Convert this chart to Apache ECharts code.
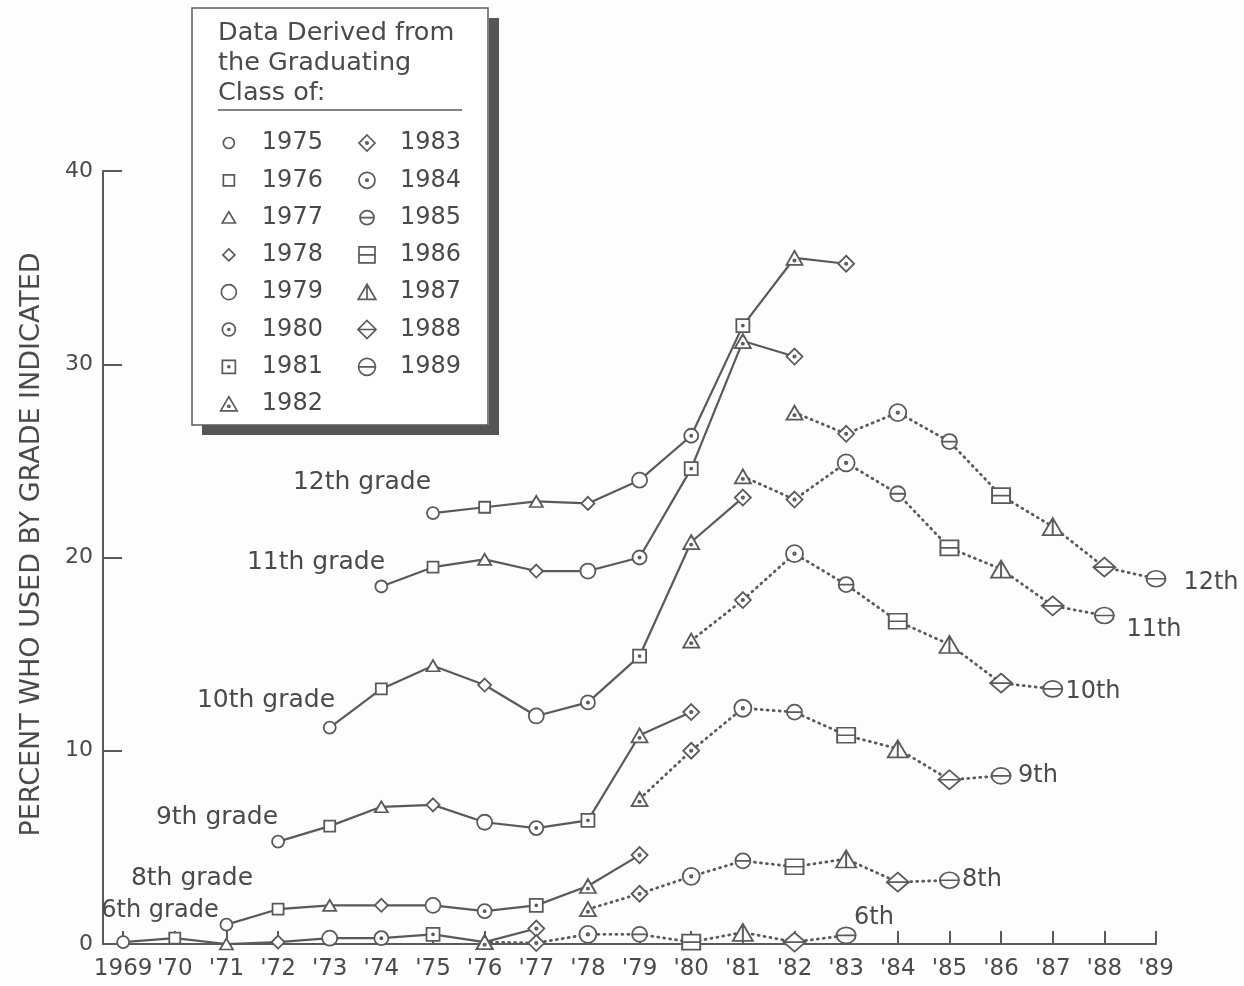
<!DOCTYPE html>
<html>
<head>
<meta charset="utf-8">
<title>Percent who used by grade indicated</title>
<script src="https://cdn.jsdelivr.net/npm/echarts@6/dist/echarts.min.js"></script>
<style>
  html, body { margin: 0; padding: 0; background: #fdfdfd; }
  #chart { width: 1244px; height: 986px; }
</style>
</head>
<body>
<div id="chart"></div>
<script>
// x axis tick years
const tickYears = [1969, 1970, 1971, 1972, 1973, 1974, 1975, 1976, 1977, 1978, 1979,
    1980, 1981, 1982, 1983, 1984, 1985, 1986, 1987, 1988, 1989];

// graduating classes behind each line (solid = early classes, dotted = later ones)
const solidClasses = [1975, 1976, 1977, 1978, 1979, 1980, 1981, 1982, 1983];
const dottedClasses = [1982, 1983, 1984, 1985, 1986, 1987, 1988, 1989];
const legendClasses = [1975, 1976, 1977, 1978, 1979, 1980, 1981, 1982,
    1983, 1984, 1985, 1986, 1987, 1988, 1989];

// percent who used by the grade indicated, one value per class
const grade12Solid = [22.3, 22.6, 22.9, 22.8, 24.0, 26.3, 32.0, 35.5, 35.2];
const grade12Dotted = [27.5, 26.4, 27.5, 26.0, 23.2, 21.6, 19.5, 18.9];
const grade11Solid = [18.5, 19.5, 19.9, 19.3, 19.3, 20.0, 24.6, 31.2, 30.4];
const grade11Dotted = [24.2, 23.0, 24.9, 23.3, 20.5, 19.4, 17.5, 17.0];
const grade10Solid = [11.2, 13.2, 14.4, 13.4, 11.8, 12.5, 14.9, 20.8, 23.1];
const grade10Dotted = [15.7, 17.8, 20.2, 18.6, 16.7, 15.5, 13.5, 13.2];
const grade9Solid = [5.3, 6.1, 7.1, 7.2, 6.3, 6.0, 6.4, 10.8, 12.0];
const grade9Dotted = [7.5, 10.0, 12.2, 12.0, 10.8, 10.1, 8.5, 8.7];
const grade8Solid = [1.0, 1.8, 2.0, 2.0, 2.0, 1.7, 2.0, 3.0, 4.6];
const grade8Dotted = [1.8, 2.6, 3.5, 4.3, 4.0, 4.4, 3.2, 3.3];
const grade6Solid = [0.1, 0.3, 0.0, 0.1, 0.3, 0.3, 0.5, 0.1, 0.8];
const grade6Dotted = [0.1, 0.05, 0.5, 0.5, 0.1, 0.6, 0.1, 0.45];

const FONT = 'DejaVu Sans';
const TEXT = '#4a4a4a';
const LINE = '#5a5a5a';

// marker shapes per class (20 unit box)
const ring = 'M0,-10A10,10,0,1,1,0,10A10,10,0,1,1,0,-10Z';
const box = 'M-10,-10L10,-10L10,10L-10,10Z';
const tri = 'M0,-10L11,9L-11,9Z';
const dia = 'M0,-10L10,0L0,10L-10,0Z';
const dot = 'M0,-1.5A1.5,1.5,0,1,1,0,1.5A1.5,1.5,0,1,1,0,-1.5Z';
const triDot = 'M0,1.5A1.5,1.5,0,1,1,0,4.5A1.5,1.5,0,1,1,0,1.5Z';
const hbar = 'M-10,0L10,0';
const vbar = 'M0,-10L0,9';

const marks = {
    1975: {path: ring, size: 12, legend: 11},
    1976: {path: box, size: 11, legend: 11},
    1977: {path: tri, size: [13, 11], legend: 12},
    1978: {path: dia, size: 13, legend: 12},
    1979: {path: ring, size: 15, legend: 15},
    1980: {path: ring + dot, size: 14, legend: 13},
    1981: {path: box + dot, size: 13, legend: 13},
    1982: {path: tri + triDot, size: [16, 14], legend: 15},
    1983: {path: dia + dot, size: 16, legend: 16},
    1984: {path: ring + dot, size: 17, legend: 16},
    1985: {path: ring + hbar, size: 15, legend: 14},
    1986: {path: box + hbar, size: [18, 15], legend: 16},
    1987: {path: tri + vbar, size: [20, 17], legend: 16},
    1988: {path: dia + hbar, size: [22, 19], legend: 18},
    1989: {path: ring + hbar, size: [19, 16], legend: 17}
};

// legend icons share one box, so pad the path bounds to keep each icon its own size
const legendBox = 18;
const legendIcon = (c) => {
    const r = (10 * legendBox / marks[c].legend).toFixed(2);
    return 'path://M-' + r + ',-' + r + 'M' + r + ',' + r + marks[c].path;
};

const markerStyle = {color: '#fff', borderColor: LINE, borderWidth: 1.8};

const gradeSeries = (grade, classes, values, dotted) => ({
    type: 'line',
    name: grade + (dotted ? 'th later' : 'th'),
    data: classes.map((c, i) => ({
        value: [c - (12 - grade), values[i]],
        symbol: 'path://' + marks[c].path,
        symbolSize: marks[c].size
    })),
    symbolKeepAspect: false,
    showAllSymbol: true,
    itemStyle: markerStyle,
    lineStyle: dotted
        ? {color: LINE, width: 2.8, type: [1, 5], cap: 'round'}
        : {color: LINE, width: 2.2},
    emphasis: {disabled: true},
    z: 3
});

const series = [
    gradeSeries(6, solidClasses, grade6Solid, false),
    gradeSeries(6, dottedClasses, grade6Dotted, true),
    gradeSeries(8, solidClasses, grade8Solid, false),
    gradeSeries(8, dottedClasses, grade8Dotted, true),
    gradeSeries(9, solidClasses, grade9Solid, false),
    gradeSeries(9, dottedClasses, grade9Dotted, true),
    gradeSeries(10, solidClasses, grade10Solid, false),
    gradeSeries(10, dottedClasses, grade10Dotted, true),
    gradeSeries(11, solidClasses, grade11Solid, false),
    gradeSeries(11, dottedClasses, grade11Dotted, true),
    gradeSeries(12, solidClasses, grade12Solid, false),
    gradeSeries(12, dottedClasses, grade12Dotted, true)
];

// empty series, one per class, only to feed the legend
legendClasses.forEach(c => {
    series.push({
        type: 'line',
        name: String(c),
        data: [],
        symbol: 'path://' + marks[c].path,
        itemStyle: markerStyle
    });
});

const label = (text, x, y, size, align) => ({
    type: 'text',
    x: x,
    y: y,
    z: 100,
    silent: true,
    style: {
        text: text,
        fill: TEXT,
        font: size + 'px "' + FONT + '"',
        align: align || 'center',
        verticalAlign: 'middle'
    }
});

const myChart = echarts.init(document.getElementById('chart'));
myChart.setOption({
    animation: false,
    backgroundColor: '#fdfdfd',
    textStyle: {fontFamily: FONT},
    grid: {
        left: 103,
        right: 88,
        top: 171,
        bottom: 42,
        outerBoundsMode: 'none'
    },
    xAxis: {
        type: 'value',
        min: 1968.61,
        max: 1989,
        axisLine: {show: true, lineStyle: {color: LINE, width: 2}},
        axisTick: {
            show: true,
            inside: true,
            length: 13,
            customValues: tickYears,
            lineStyle: {color: LINE, width: 2}
        },
        axisLabel: {
            customValues: tickYears,
            formatter: v => (v === 1969 ? '1969' : "'" + String(v).slice(2)),
            fontSize: 23,
            color: TEXT,
            margin: 14
        },
        splitLine: {show: false}
    },
    yAxis: {
        type: 'value',
        min: 0,
        max: 40,
        interval: 10,
        name: 'PERCENT WHO USED BY GRADE INDICATED',
        nameLocation: 'middle',
        nameRotate: 90,
        nameGap: 58,
        nameTextStyle: {fontSize: 27, color: TEXT, padding: [0, 0, 0, 26]},
        axisLine: {show: true, lineStyle: {color: LINE, width: 2}},
        axisTick: {show: true, inside: true, length: 19, lineStyle: {color: LINE, width: 2}},
        axisLabel: {fontSize: 22, color: TEXT, margin: 10},
        splitLine: {show: false}
    },
    legend: {
        data: legendClasses.map(c => ({name: String(c), icon: legendIcon(c)})),
        orient: 'vertical',
        left: 192,
        top: 8,
        height: 290,
        padding: [122, 5, 8, 27],
        itemWidth: legendBox,
        itemHeight: legendBox,
        itemGap: 11.3,
        selectedMode: false,
        itemStyle: {color: '#fff', borderColor: LINE, borderWidth: 1.7},
        textStyle: {
            fontSize: 24,
            lineHeight: 26,
            color: TEXT,
            width: 84,
            padding: [0, 0, 0, 19]
        },
        backgroundColor: '#fff',
        borderWidth: 0,
        shadowColor: '#555',
        shadowBlur: 0,
        shadowOffsetX: 10,
        shadowOffsetY: 10
    },
    graphic: [
        {
            // frame of the legend box
            type: 'rect',
            z: 100,
            silent: true,
            shape: {x: 192, y: 8, width: 296, height: 417},
            style: {fill: null, stroke: LINE, lineWidth: 1.5}
        },
        label('Data Derived from', 218, 33, 25.5, 'left'),
        label('the Graduating', 218, 63, 25.5, 'left'),
        label('Class of:', 218, 93, 25.5, 'left'),
        {
            type: 'line',
            z: 100,
            silent: true,
            shape: {x1: 218, y1: 110, x2: 462, y2: 110},
            style: {stroke: LINE, lineWidth: 1.5}
        },
        label('12th grade', 362, 482, 25),
        label('11th grade', 316, 562, 25),
        label('10th grade', 266, 700, 25),
        label('9th grade', 217, 817, 25),
        label('8th grade', 192, 878, 25),
        label('6th grade', 160, 911, 24),
        label('12th', 1211, 583, 24),
        label('11th', 1154, 630, 24),
        label('10th', 1093, 692, 24),
        label('9th', 1038, 776, 24),
        label('8th', 982, 880, 24),
        label('6th', 874, 918, 24)
    ],
    series: series
});
</script>
</body>
</html>
